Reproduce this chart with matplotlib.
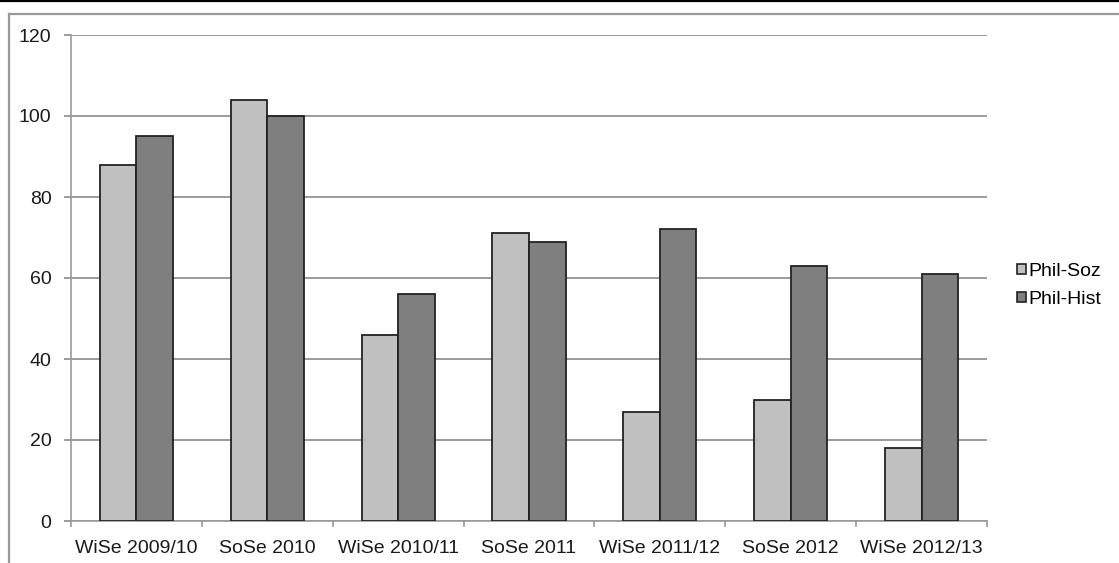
import matplotlib
matplotlib.use("Agg")
import matplotlib.pyplot as plt
from matplotlib.lines import Line2D
from matplotlib.patches import Patch
import numpy as np

categories = ["WiSe 2009/10", "SoSe 2010", "WiSe 2010/11", "SoSe 2011",
              "WiSe 2011/12", "SoSe 2012", "WiSe 2012/13"]
phil_soz = [88, 104, 46, 71, 27, 30, 18]
phil_hist = [95, 100, 56, 69, 72, 63, 61]
series_names = ["Phil-Soz", "Phil-Hist"]
yticks = [0, 20, 40, 60, 80, 100, 120]

plt.rcParams['font.family'] = ['Liberation Sans', 'DejaVu Sans']

W, H = 1119, 563
fig = plt.figure(figsize=(W / 100, H / 100), dpi=100)
fig.patch.set_facecolor("white")
ax = fig.add_axes([71 / W, 1 - 521 / H, (987 - 71) / W, (521 - 35) / H])

x = np.arange(len(categories))
bw = 0.28
c_light = "#c0c0c0"
c_dark = "#7f7f7f"
ax.bar(x - bw / 2, phil_soz, bw, color=c_light, edgecolor="#222222", linewidth=1.3, zorder=3)
ax.bar(x + bw / 2, phil_hist, bw, color=c_dark, edgecolor="#222222", linewidth=1.3, zorder=3)

fs = 14
ax.set_xlim(-0.5, len(categories) - 0.5)
ax.set_ylim(0, 120)
ax.set_yticks(yticks)
ax.set_yticklabels([str(v) for v in yticks], fontsize=fs, color="#1a1a1a")
ax.yaxis.grid(True, color="#8a8a8a", linewidth=1.2, zorder=0)
ax.set_axisbelow(True)

ax.set_xticks(x)
ax.set_xticklabels(categories, fontsize=fs, color="#1a1a1a")
ax.tick_params(axis="x", which="major", length=0, pad=14)
ax.set_xticks(np.arange(-0.5, len(categories), 1.0), minor=True)
ax.tick_params(axis="x", which="minor", length=4, width=1.2, color="#9a9a9a")
ax.tick_params(axis="y", length=5, width=1.2, color="#8a8a8a", pad=9)

for s in ["top", "right"]:
    ax.spines[s].set_visible(False)
ax.spines["left"].set_color("#9a9a9a")
ax.spines["left"].set_linewidth(1.2)
ax.spines["bottom"].set_color("#9a9a9a")
ax.spines["bottom"].set_linewidth(1.2)

handles = [Patch(facecolor=c_light, edgecolor="#222222", linewidth=1.2),
           Patch(facecolor=c_dark, edgecolor="#222222", linewidth=1.2)]
fig.legend(handles, series_names, loc="upper left", bbox_to_anchor=(1017 / W, 1 - 263 / H),
           frameon=False, fontsize=fs, handlelength=0.45, handleheight=0.45,
           handletextpad=0.15, labelspacing=0.55, borderpad=0, borderaxespad=0)

# chart-area frame lines
fig.add_artist(Line2D([0, 1], [1 - 0.8 / H, 1 - 0.8 / H], color="black", linewidth=1.6,
                      transform=fig.transFigure))
fig.add_artist(Line2D([9 / W, 1], [1 - 13.5 / H, 1 - 13.5 / H], color="#9a9a9a", linewidth=1.6,
                      transform=fig.transFigure))
fig.add_artist(Line2D([9 / W, 9 / W], [0, 1 - 13.5 / H], color="#9a9a9a", linewidth=1.6,
                      transform=fig.transFigure))

fig.savefig("out.png", dpi=100)
